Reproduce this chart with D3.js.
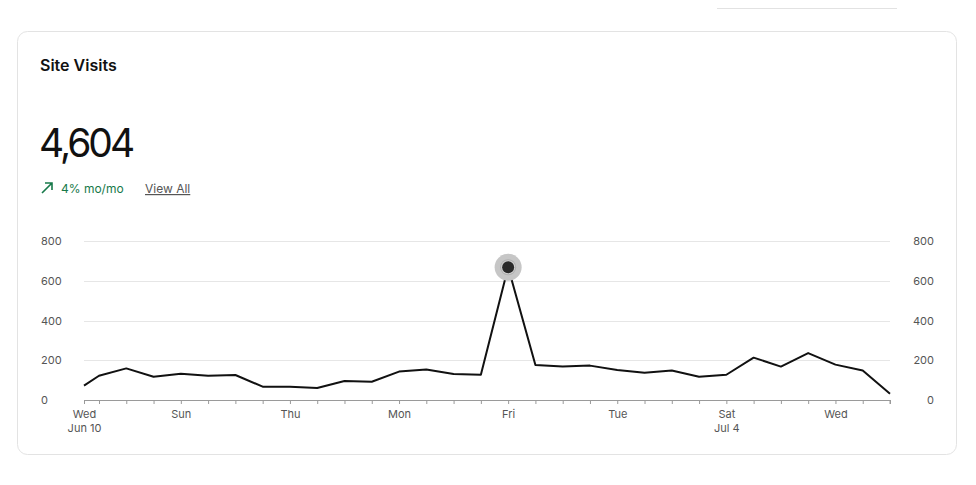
<!DOCTYPE html>
<html>
<head>
<meta charset="utf-8">
<script src="https://cdn.jsdelivr.net/npm/d3@7"></script>
<style>
  body { margin: 0; background: #fff; font-family: Inter, "Noto Sans", sans-serif; }
  svg text { font-family: Inter, "Noto Sans", sans-serif; }
</style>
</head>
<body>
<div class="chart"></div>
<script>
// daily visits, first point starts part way through Jun 10
const days = ["2020-06-10T10:48", "2020-06-11", "2020-06-12", "2020-06-13", "2020-06-14", "2020-06-15",
    "2020-06-16", "2020-06-17", "2020-06-18", "2020-06-19", "2020-06-20", "2020-06-21", "2020-06-22",
    "2020-06-23", "2020-06-24", "2020-06-25", "2020-06-26", "2020-06-27", "2020-06-28", "2020-06-29",
    "2020-06-30", "2020-07-01", "2020-07-02", "2020-07-03", "2020-07-04", "2020-07-05", "2020-07-06",
    "2020-07-07", "2020-07-08", "2020-07-09", "2020-07-10"];
const visits = [72, 122, 159, 117, 132, 122, 126, 67, 67, 60, 96, 92, 143, 153, 131, 127,
    668, 176, 168, 173, 151, 137, 148, 117, 127, 213, 168, 236, 178, 148, 32];
const labelDays = ["2020-06-10T10:48", "2020-06-14", "2020-06-18", "2020-06-22", "2020-06-26",
    "2020-06-30", "2020-07-04", "2020-07-08"];
const labelLines = [["Wed", "Jun 10"], ["Sun"], ["Thu"], ["Mon"], ["Fri"], ["Tue"], ["Sat", "Jul 4"], ["Wed"]];
const yTicks = [0, 200, 400, 600, 800];
const highlightDay = "2020-06-26";

const W = 976, H = 485;
const margin = {top: 241, left: 84, right: 86, bottom: 85};
const width = W - margin.left - margin.right;
const height = H - margin.top - margin.bottom;

const parse = d3.isoParse;
const data = days.map((d, i) => ({date: parse(d), value: visits[i]}));

const svg = d3.select(".chart").append("svg")
    .attr("width", W)
    .attr("height", H);

// faint line above the card
svg.append("line")
    .attr("x1", 717).attr("x2", 897)
    .attr("y1", 8.5).attr("y2", 8.5)
    .attr("stroke", "#e2e2e2")

// card
svg.append("rect")
    .attr("x", 17.5).attr("y", 31.5)
    .attr("width", 939).attr("height", 423)
    .attr("rx", 10)
    .attr("fill", "#fff")
    .attr("stroke", "#e3e3e3")

svg.append("text")
    .attr("x", 40).attr("y", 71)
    .attr("font-size", 16)
    .attr("font-weight", 600)
    .attr("fill", "#111")
    .text("Site Visits")

svg.append("text")
    .attr("x", 39).attr("y", 157)
    .attr("font-size", 39)
    .attr("font-weight", 400)
    .attr("letter-spacing", -3)
    .attr("fill", "#111")
    .text(d3.format(",")(4604))

// trend arrow
svg.append("path")
    .attr("d", "M42,193 L52,183 M45,183 L52,183 L52,190")
    .attr("fill", "none")
    .attr("stroke", "#17794a")
    .attr("stroke-width", 1.6)

svg.append("text")
    .attr("x", 61).attr("y", 193)
    .attr("font-size", 12)
    .attr("fill", "#17794a")
    .text("4% mo/mo")

svg.append("text")
    .attr("x", 145).attr("y", 193)
    .attr("font-size", 12)
    .attr("fill", "#555")
    .attr("text-decoration", "underline")
    .text("View All")

const g = svg.append("g")
    .attr("transform", `translate(${margin.left},${margin.top})`)

const xScale = d3.scaleTime()
    .domain(d3.extent(data, d => d.date))
    .range([0, width])

const yScale = d3.scaleLinear()
    .domain([0, 800])
    .range([height, 0])

// gridlines
g.selectAll(".grid")
    .data(yTicks.filter(d => d > 0))
    .join("line")
    .attr("class", "grid")
    .attr("x1", 0).attr("x2", width)
    .attr("y1", d => Math.round(yScale(d)) + 0.5)
    .attr("y2", d => Math.round(yScale(d)) + 0.5)
    .attr("stroke", "#e6e6e6")

// y labels, both sides
const yLeft = d3.axisLeft(yScale).tickValues(yTicks).tickSize(0).tickPadding(0);
g.append("g")
    .attr("transform", "translate(-43,0)")
    .call(yLeft)
    .call(a => a.select(".domain").remove())
    .call(a => a.selectAll("text")
        .attr("text-anchor", "start")
        .attr("font-size", 11)
        .attr("fill", "#555"))

const yRight = d3.axisRight(yScale).tickValues(yTicks).tickSize(0).tickPadding(0);
g.append("g")
    .attr("transform", `translate(${width + 44},0)`)
    .call(yRight)
    .call(a => a.select(".domain").remove())
    .call(a => a.selectAll("text")
        .attr("text-anchor", "end")
        .attr("font-size", 11)
        .attr("fill", "#555"))

// x axis with a tick per day
const labelMap = new Map(labelDays.map((d, i) => [+parse(d), labelLines[i]]));
const xAxis = d3.axisBottom(xScale)
    .tickValues(data.map(d => d.date))
    .tickSize(4)
    .tickFormat("")

const xg = g.append("g")
    .attr("class", "axis x-axis")
    .attr("transform", `translate(0,${height})`)
    .call(xAxis)
xg.select(".domain").attr("stroke", "#9a9a9a").attr("d", `M0.5,4V0.5H${width}V4`)
xg.selectAll(".tick line").attr("stroke", "#9a9a9a")

xg.selectAll(".tick").each(function(d) {
    const lines = labelMap.get(+d);
    if (!lines) return;
    const t = d3.select(this).append("text")
        .attr("fill", "#555")
        .attr("font-size", 11)
        .attr("text-anchor", "middle")
    lines.forEach((s, i) => {
        t.append("tspan").attr("x", 0).attr("y", 18 + i * 14).text(s)
    })
})

// line
const line = d3.line()
    .x(d => xScale(d.date))
    .y(d => yScale(d.value))

g.append("path")
    .datum(data)
    .attr("d", line)
    .attr("fill", "none")
    .attr("stroke", "#111")
    .attr("stroke-width", 2)
    .attr("stroke-linejoin", "round")

// highlighted point
const hp = data.find(d => +d.date === +parse(highlightDay));
const hg = g.append("g")
    .attr("transform", `translate(${xScale(hp.date)},${yScale(hp.value)})`)
hg.append("circle").attr("r", 13.5).attr("fill", "#c6c6c6")
hg.append("circle").attr("r", 8).attr("fill", "#b0b0b0")
hg.append("circle").attr("r", 7).attr("fill", "#d0d0d0")
hg.append("circle").attr("r", 6).attr("fill", "#2a2a2a")
</script>
</body>
</html>
